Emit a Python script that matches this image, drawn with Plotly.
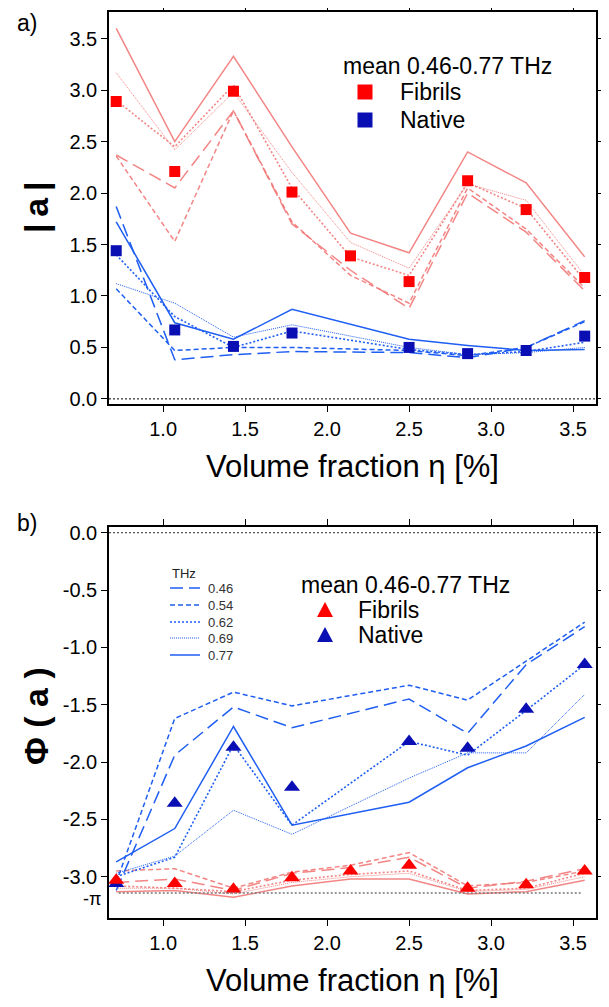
import plotly.graph_objects as go
import math

# ---------------- data ----------------
eta = [0.714, 1.071, 1.429, 1.786, 2.143, 2.5, 2.857, 3.214, 3.571]
eta_native = [0.714, 1.071, 1.429, 1.786, 2.5, 2.857, 3.214, 3.571]
freqs = ["0.46", "0.54", "0.62", "0.69", "0.77"]

# |a| fibrils per frequency
abs_fib = {
    "0.46": [2.37, 2.05, 2.80, 1.70, 1.25, 0.88, 2.00, 1.62, 1.05],
    "0.54": [2.36, 1.53, 2.80, 1.72, 1.20, 0.93, 2.05, 1.65, 1.08],
    "0.62": [2.90, 2.45, 3.05, 2.05, 1.38, 1.20, 2.10, 1.85, 1.15],
    "0.69": [3.17, 2.42, 2.98, 2.20, 1.52, 1.27, 2.09, 1.93, 1.20],
    "0.77": [3.60, 2.50, 3.33, 2.45, 1.61, 1.42, 2.40, 2.10, 1.38],
}
abs_fib_mean = [2.89, 2.21, 2.99, 2.01, 1.39, 1.14, 2.12, 1.84, 1.18]

# |a| native per frequency
abs_nat = {
    "0.46": [1.87, 0.38, 0.43, 0.46, 0.45, 0.40, 0.50, 0.76],
    "0.54": [1.07, 0.47, 0.50, 0.50, 0.47, 0.42, 0.50, 0.75],
    "0.62": [1.40, 0.80, 0.50, 0.66, 0.48, 0.43, 0.46, 0.55],
    "0.69": [1.12, 0.93, 0.60, 0.72, 0.50, 0.43, 0.45, 0.50],
    "0.77": [1.72, 0.74, 0.58, 0.87, 0.58, 0.52, 0.47, 0.48],
}
abs_nat_mean = [1.44, 0.67, 0.51, 0.64, 0.50, 0.44, 0.47, 0.61]

# phase fibrils per frequency
ph_fib = {
    "0.46": [-3.05, -3.02, -3.12, -2.97, -2.92, -2.83, -3.10, -3.04, -2.93],
    "0.54": [-2.95, -2.93, -3.10, -2.96, -2.90, -2.79, -3.08, -3.05, -2.95],
    "0.62": [-3.08, -3.10, -3.13, -3.03, -2.98, -2.95, -3.12, -3.10, -2.97],
    "0.69": [-3.10, -3.10, -3.15, -3.05, -3.00, -2.97, -3.13, -3.11, -3.00],
    "0.77": [-3.13, -3.12, -3.18, -3.08, -3.02, -3.02, -3.15, -3.13, -3.03],
}
ph_fib_mean = [-3.03, -3.06, -3.11, -3.01, -2.95, -2.90, -3.10, -3.07, -2.95]

# phase native per frequency
ph_nat = {
    "0.46": [-3.12, -1.94, -1.52, -1.70, -1.45, -1.75, -1.15, -0.82],
    "0.54": [-3.05, -1.62, -1.39, -1.51, -1.33, -1.46, -1.12, -0.78],
    "0.62": [-3.00, -2.83, -1.85, -2.55, -1.82, -1.94, -1.55, -1.15],
    "0.69": [-2.97, -2.82, -2.42, -2.63, -2.14, -1.92, -1.92, -1.41],
    "0.77": [-2.87, -2.58, -1.69, -2.55, -2.35, -2.05, -1.86, -1.61],
}
ph_nat_mean = [-3.06, -2.36, -1.87, -2.22, -1.82, -1.88, -1.54, -1.15]

x_ticks = [1.0, 1.5, 2.0, 2.5, 3.0, 3.5]
x_ticktext = ["1.0", "1.5", "2.0", "2.5", "3.0", "3.5"]
ya_ticks = [0.0, 0.5, 1.0, 1.5, 2.0, 2.5, 3.0, 3.5]
ya_ticktext = ["0.0", "0.5", "1.0", "1.5", "2.0", "2.5", "3.0", "3.5"]
yb_ticks = [0.0, -0.5, -1.0, -1.5, -2.0, -2.5, -3.0]
yb_ticktext = ["0.0", "-0.5", "-1.0", "-1.5", "-2.0", "-2.5", "-3.0"]

# ---------------- styles ----------------
FONT = "Liberation Sans, Arial, sans-serif"
RED_LINE = "rgba(242,120,120,0.9)"
BLUE_LINE = "#1f5ef2"
RED_MK = "#ff0000"
BLUE_MK = "#0a0fb4"
dash_style = {"0.46": "13px,6px", "0.54": "5px,3px", "0.62": "2px,2px",
              "0.69": "1px,1px", "0.77": "solid"}
width_style = {"0.46": 1.5, "0.54": 1.5, "0.62": 1.6, "0.69": 1.0, "0.77": 1.5}

fig = go.Figure()

def add_lines(xs, series, color, xa, ya):
    for f in freqs:
        fig.add_trace(go.Scatter(x=xs, y=series[f], mode="lines", xaxis=xa, yaxis=ya,
                                 line=dict(color=color, dash=dash_style[f], width=width_style[f]),
                                 showlegend=False, hoverinfo="skip"))

add_lines(eta, abs_fib, RED_LINE, "x", "y")
add_lines(eta_native, abs_nat, BLUE_LINE, "x", "y")
fig.add_trace(go.Scatter(x=eta, y=abs_fib_mean, mode="markers", xaxis="x", yaxis="y",
                         marker=dict(symbol="square", size=11, color=RED_MK), showlegend=False))
fig.add_trace(go.Scatter(x=eta_native, y=abs_nat_mean, mode="markers", xaxis="x", yaxis="y",
                         marker=dict(symbol="square", size=11, color=BLUE_MK), showlegend=False))

add_lines(eta, ph_fib, RED_LINE, "x2", "y2")
add_lines(eta_native, ph_nat, BLUE_LINE, "x2", "y2")
fig.add_trace(go.Scatter(x=eta_native, y=ph_nat_mean, mode="markers", xaxis="x2", yaxis="y2",
                         marker=dict(symbol="triangle-up", size=14, color=BLUE_MK), showlegend=False))
fig.add_trace(go.Scatter(x=eta, y=ph_fib_mean, mode="markers", xaxis="x2", yaxis="y2",
                         marker=dict(symbol="triangle-up", size=14, color=RED_MK), showlegend=False))

XR = [0.67, 3.64]
YA = [-0.05, 3.76]
YB = [-3.36, 0.05]
DA = [0.5673, 1.0]
DB = [0.0, 0.4316]
tickfont = dict(family=FONT, size=20, color="black")

def xaxis_main(anchor, title=None):
    d = dict(range=XR, domain=[0, 1], anchor=anchor, showgrid=False, zeroline=False,
             showline=True, linecolor="black", linewidth=1.5, mirror="ticks",
             ticks="outside", ticklen=6, tickwidth=1, tickcolor="black",
             tickvals=x_ticks, ticktext=x_ticktext, tickfont=tickfont, automargin=False)
    if title:
        d["title"] = dict(text=title, font=dict(family=FONT, size=31, color="black"), standoff=17)
    return d

def xaxis_inner(over, anchor):
    return dict(range=XR, domain=[0, 1], anchor=anchor, overlaying=over, showgrid=False,
                zeroline=False, showline=False, mirror="ticks", ticks="inside", ticklen=6,
                tickwidth=1, tickcolor="black", tickvals=x_ticks, showticklabels=False,
                automargin=False)

def yaxis_main(anchor, dom, rng, tv, tt):
    return dict(range=rng, domain=dom, anchor=anchor, showgrid=False, zeroline=False,
                showline=True, linecolor="black", linewidth=1.5, mirror="ticks",
                ticks="outside", ticklen=6, tickwidth=1, tickcolor="black",
                tickvals=tv, ticktext=tt, tickfont=tickfont, automargin=False)

def yaxis_inner(over, anchor, dom, rng, tv):
    return dict(range=rng, domain=dom, anchor=anchor, overlaying=over, showgrid=False,
                zeroline=False, showline=False, mirror="ticks", ticks="inside", ticklen=6,
                tickwidth=1, tickcolor="black", tickvals=tv, showticklabels=False,
                automargin=False)

# page body has an 8px default margin: figure is shrunk by 8px so it fits the window
fig.update_layout(
    width=601, height=999,
    margin=dict(l=101, r=13, t=4, b=89),
    paper_bgcolor="white", plot_bgcolor="white",
    font=dict(family=FONT, color="black"),
    showlegend=False,
    xaxis=xaxis_main("y", "Volume fraction \u03b7 [%]"),
    yaxis=yaxis_main("x", DA, YA, ya_ticks, ya_ticktext),
    xaxis2=xaxis_main("y2", "Volume fraction \u03b7 [%]"),
    yaxis2=yaxis_main("x2", DB, YB, yb_ticks, yb_ticktext),
    xaxis3=xaxis_inner("x", "y"),
    yaxis3=yaxis_inner("y", "x", DA, YA, ya_ticks),
    xaxis4=xaxis_inner("x2", "y2"),
    yaxis4=yaxis_inner("y2", "x2", DB, YB, yb_ticks),
)

# reference dotted lines
fig.add_shape(type="line", xref="x domain", yref="y", x0=0, x1=1, y0=0, y1=0,
              line=dict(color="black", width=1, dash="2px,2px"))
fig.add_shape(type="line", xref="x2 domain", yref="y2", x0=0, x1=1, y0=0, y1=0,
              line=dict(color="#555", width=1.2, dash="2px,2px"))
fig.add_shape(type="line", xref="x2 domain", yref="y2", x0=0.02, x1=0.97, y0=-math.pi, y1=-math.pi,
              line=dict(color="#777", width=1.5, dash="2px,2px"))

# helpers converting window pixel positions (reference picture) to paper fractions
def px_x(X):
    return (X - 109) / 487.0

def px_y(Y):
    return (918 - Y) / 906.0

ann = []
def text(X, Y, s, size, xanchor="left", angle=0, color="black"):
    ann.append(dict(x=px_x(X), y=px_y(Y), xref="paper", yref="paper", text=s,
                    showarrow=False, xanchor=xanchor, yanchor="middle", textangle=angle,
                    font=dict(family=FONT, size=size, color=color)))

# panel labels
text(27, 23, "a)", 23, xanchor="center")
text(27, 523, "b)", 23, xanchor="center")
# y titles
text(36, 207, "<b>|\u2009a\u2009|</b>", 34, xanchor="center", angle=-90)
text(36, 716, "<b>\u03a6 ( a )</b>", 34, xanchor="center", angle=-90)
# -pi label
ann.append(dict(x=-0.012, y=-math.pi, xref="paper", yref="y2", text="-\u03c0", showarrow=False,
                xanchor="right", yanchor="top", yshift=6,
                font=dict(family=FONT, size=18, color="black")))

# top legend
text(341, 66, "mean 0.46-0.77 THz", 23)
text(398, 92, "Fibrils", 23)
text(398, 120, "Native", 23)
for Y, c in [(92, RED_MK), (120, BLUE_MK)]:
    fig.add_shape(type="rect", xref="paper", yref="paper", xsizemode="pixel", ysizemode="pixel",
                  xanchor=px_x(365), yanchor=px_y(Y), x0=-7.5, x1=7.5, y0=-7.5, y1=7.5,
                  fillcolor=c, line=dict(width=0))

# bottom legend
text(299, 585, "mean 0.46-0.77 THz", 23)
text(356, 610, "Fibrils", 23)
text(356, 635, "Native", 23)
for Y, c in [(610, RED_MK), (635, BLUE_MK)]:
    fig.add_shape(type="path", xref="paper", yref="paper", xsizemode="pixel", ysizemode="pixel",
                  xanchor=px_x(325), yanchor=px_y(Y), path="M -8,-7 L 8,-7 L 0,8 Z",
                  fillcolor=c, line=dict(width=0))

# THz line-style legend
text(170, 573, "THz", 13, color="#222")
rowsY = [588, 605, 622, 638, 655]
for f, Y in zip(freqs, rowsY):
    fig.add_shape(type="line", xref="paper", yref="paper", x0=px_x(170), x1=px_x(200),
                  y0=px_y(Y), y1=px_y(Y),
                  line=dict(color=BLUE_LINE, dash=dash_style[f], width=width_style[f]))
    text(206, Y, f, 13, color="#333")

fig.update_layout(annotations=ann)
fig.write_html("out.html")
